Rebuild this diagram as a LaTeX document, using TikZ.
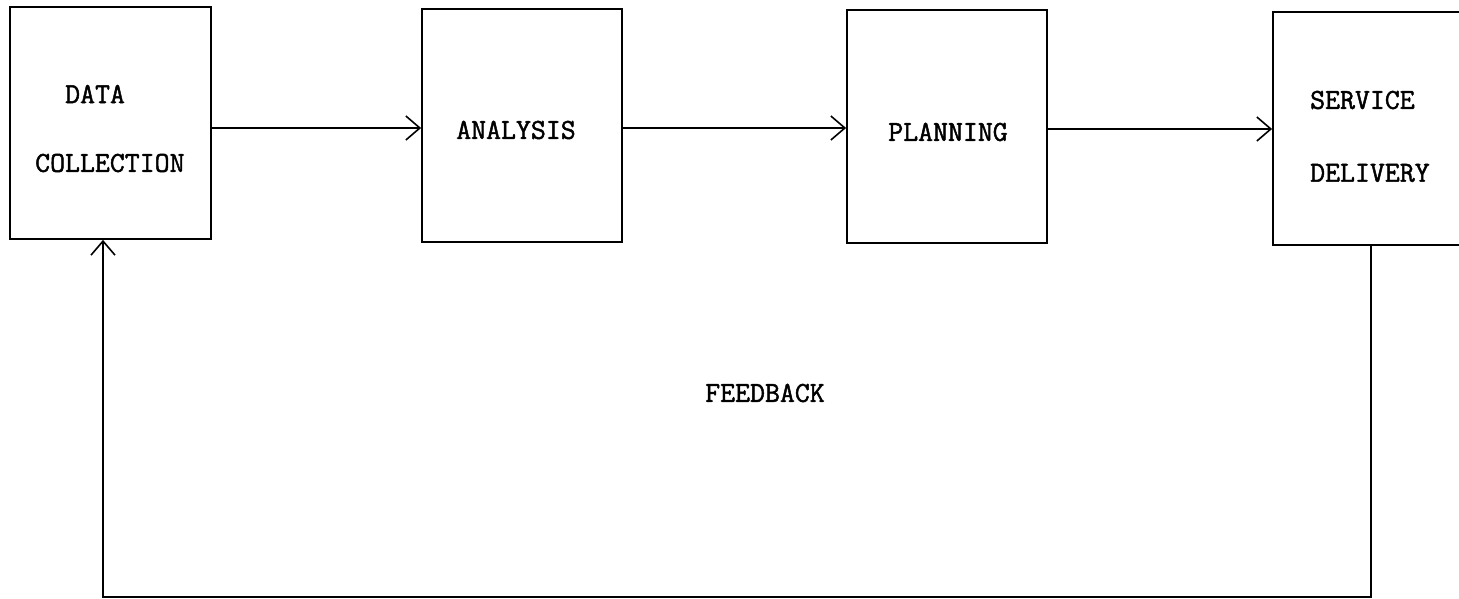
\documentclass[tikz,border=0pt]{standalone}
\usepackage{fontspec}
\newfontfamily\typewriter{Latin Modern Mono}[FakeBold=1.6]
\usetikzlibrary{arrows.meta}
\tikzset{
  stagebox/.style={draw=black, line width=1.8pt, inner sep=0pt, fill=none},
  label/.style={inner sep=0pt, font=\typewriter\fontsize{29}{29}\selectfont},
  flow/.style={line width=1.6pt, -{Straight Barb[length=14pt, width=24pt, line width=1.6pt]}},
}
\begin{document}
\begin{tikzpicture}[x=1pt, y=-1pt]
  \useasboundingbox (0,0) rectangle (1459,599);
  \clip (0,0) rectangle (1459,599);

  % process stages
  \node[stagebox, minimum width=201pt, minimum height=232pt] (collect) at (110.5,123) {};
  \node[stagebox, minimum width=200pt, minimum height=233pt] (analysis) at (522,125.5) {};
  \node[stagebox, minimum width=200pt, minimum height=233pt] (planning) at (947,126.5) {};
  \node[stagebox, minimum width=200pt, minimum height=233pt] (delivery) at (1373,128.5) {};

  % stage titles
  \node[label, anchor=west] (tdata) at (65,94) {DATA};
  \node[label, anchor=west] (tcoll) at (35,163) {COLLECTION};
  \node[label] (tanal) at (516,130) {ANALYSIS};
  \node[label] (tplan) at (948,132) {PLANNING};
  \node[label, anchor=west] (tserv) at (1310,100) {SERVICE};
  \node[label, anchor=west] (tdeliv) at (1310,173) {DELIVERY};
  \node[label] (tfeed) at (765,393) {FEEDBACK};

  % forward flow
  \draw[flow] (collect.east |- 0,128) -- (analysis.west |- 0,128);
  \draw[flow] (analysis.east |- 0,128) -- (planning.west |- 0,128);
  \draw[flow] (planning.east |- 0,129) -- (delivery.west |- 0,129);

  % feedback loop
  \coordinate (fbout) at (1371,0);
  \coordinate (fbin) at (103,0);
  \draw[flow] (delivery.south -| fbout) -- (fbout |- 0,597) -- (fbin |- 0,597) -- (collect.south -| fbin);
\end{tikzpicture}
\end{document}
